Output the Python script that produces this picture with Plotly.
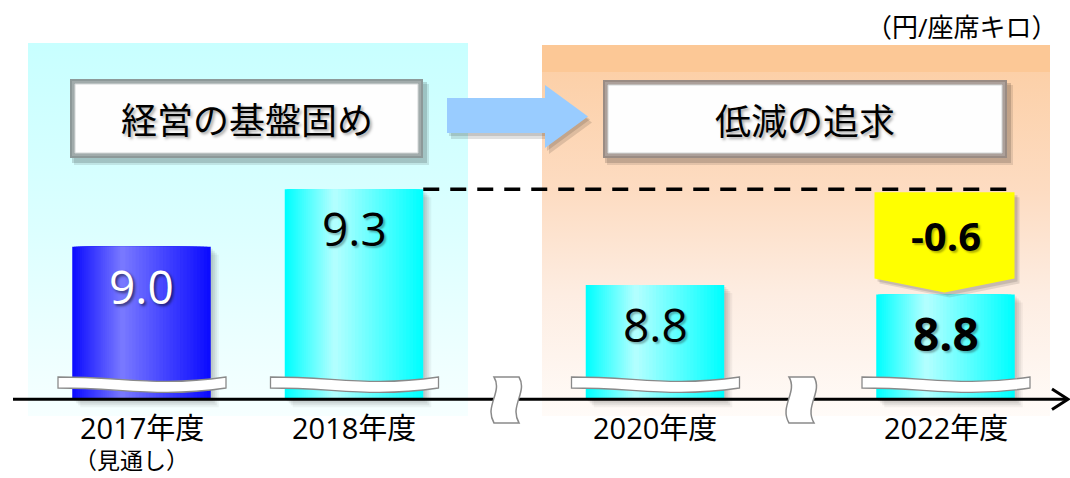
import plotly.graph_objects as go

# ---------------- data ----------------
categories = ["2017年度", "2018年度", "2020年度", "2022年度"]
category_notes = ["（見通し）", "", "", ""]
values = [9.0, 9.3, 8.8, 8.75]            # bar heights as drawn (円/座席キロ, broken axis)
value_labels = ["9.0", "9.3", "8.8", "8.8"]
bold_labels = [False, False, False, True]
change_label = "-0.6"
unit_label = "（円/座席キロ）"
phase_labels = ["経営の基盤固め", "低減の追求"]

# ---------------- layout constants ----------------
W, H = 1070, 478
AXIS_PY = 399.3          # pixel row of the category axis
PX = 191.3               # pixels per unit on the value axis
BASE = 8.202             # value at the (broken) axis line
BAR_CX = [141.5, 354, 655, 945.5]
BAR_W = 138.5
Y0 = BASE - (H - AXIS_PY) / PX
Y1 = BASE + AXIS_PY / PX
FONT = "Open Sans, Noto Sans CJK JP, sans-serif"
VY = "y2"   # value axis (bars)
PY = "y"    # pixel axis (decorations)


def mix(c1, c2, t):
    a = [int(c1[i:i + 2], 16) for i in (1, 3, 5)]
    b = [int(c2[i:i + 2], 16) for i in (1, 3, 5)]
    return "rgb(%d,%d,%d)" % tuple(round(a[k] + (b[k] - a[k]) * t) for k in range(3))


fig = go.Figure()


# ---------------- background panels (pixel axis, drawn first) ----------------
def panel(x0, x1, ytop, ybot, scale):
    fig.add_trace(go.Scatter(
        x=[x0, x1, x1, x0, x0], y=[ytop, ytop, ybot, ybot, ytop], yaxis="y",
        mode="none", fill="toself",
        fillgradient=dict(type="vertical", colorscale=scale, start=ytop, stop=ybot),
        hoverinfo="skip", showlegend=False))


panel(28, 468, 43, 416, [[0, "#c8ffff"], [0.5, "#dcffff"], [1, "#f6ffff"]])
panel(542, 1050, 45, 72, [[0, "#fcc896"], [1, "#fcc896"]])
panel(542, 1050, 72, 416, [[0, "#fcd0a8"], [0.35, "#fddcc2"], [0.65, "#fdede2"], [1, "#fffbf8"]])

# ---------------- bars (value axis, overlaid on top) ----------------
heights = [v - BASE for v in values]
edge = ["#0c0cff"] + ["#00ffff"] * 3
peak = ["#7c7cff"] + ["#b8ffff"] * 3

for dx, a in ((8, 0.05), (6, 0.07), (4, 0.08), (2, 0.08)):
    fig.add_trace(go.Bar(
        x=[c + dx for c in BAR_CX], y=heights, base=BASE - dx / PX, width=BAR_W, yaxis=VY,
        marker=dict(color="rgba(40,40,40,%s)" % a, line_width=0),
        hoverinfo="skip", showlegend=False))

N, P = 26, 0.36
for j in range(N):
    t = j / N
    left = -BAR_W / 2 + t * P * BAR_W
    right = BAR_W / 2 - t * (1 - P) * BAR_W
    fig.add_trace(go.Bar(
        x=BAR_CX, y=heights, base=BASE, width=right - left, offset=left, yaxis=VY,
        marker=dict(color=[mix(edge[i], peak[i], t) for i in range(len(values))], line_width=0),
        hoverinfo="skip", showlegend=False))

shapes = []


def rect(x0, y0, x1, y1, fill, line=None, lw=0):
    shapes.append(dict(type="rect", xref="x", yref=PY, x0=x0, x1=x1, y0=y0, y1=y1,
                       fillcolor=fill, line=dict(color=line or fill, width=lw), layer="above"))


def path(d, fill, line=None, lw=0, yref=PY):
    shapes.append(dict(type="path", xref="x", yref=yref, path=d, fillcolor=fill,
                       line=dict(color=line or "rgba(0,0,0,0)", width=lw), layer="above"))


# ---------------- phase header boxes ----------------
boxes = [((70, 79, 423, 158), "#8d9999"), ((603, 80, 1007, 158), "#9a8c84")]
for (x0, y0, x1, y1), frame in boxes:
    rect(x0 + 4, y0 + 5, x1 + 6, y1 + 7, "rgba(0,0,0,0.10)")
    rect(x0 + 2, y0 + 3, x1 + 4, y1 + 5, "rgba(0,0,0,0.15)")
    rect(x0, y0, x1, y1, frame)
    rect(x0 + 2, y0 + 2, x1 - 2, y1 - 2, "rgba(255,255,255,0.18)")
    rect(x0 + 5, y0 + 5, x1 - 5, y1 - 5, "#fefefe", "#d2d6d6", 1)


# ---------------- blue transition arrow ----------------
def arrow_d(ox, oy):
    pts = [(447, 98), (545, 98), (545, 85), (588, 116.5), (545, 148), (545, 133), (447, 133)]
    return "M " + " L ".join("%s,%s" % (x + ox, y + oy) for x, y in pts) + " Z"


path(arrow_d(4, 6), "rgba(0,0,0,0.12)")
path(arrow_d(2, 3), "rgba(0,0,0,0.12)")
path(arrow_d(0, 0), "#99ccff")

# ---------------- dashed reference line at 2018 level ----------------
shapes.append(dict(type="line", xref="x", yref=VY,
                   x0=BAR_CX[1] + BAR_W / 2, x1=BAR_CX[3] + BAR_W / 2,
                   y0=values[1], y1=values[1],
                   line=dict(color="black", width=3.5, dash="16px,11px"), layer="above"))

# ---------------- yellow decrease arrow ----------------
ya_top = values[1] - 3 / PX
ya_tip = values[3] + 2 / PX
ya_sh = ya_tip + 14 / PX
cx = BAR_CX[3] - 1
hw = 70


def yarrow(ox, oy):
    oy = oy / PX
    return ("M %s,%s L %s,%s L %s,%s L %s,%s L %s,%s Z" % (
        cx - hw + ox, ya_top - oy, cx + hw + ox, ya_top - oy, cx + hw + ox, ya_sh - oy,
        cx + ox, ya_tip - oy, cx - hw + ox, ya_sh - oy))


path(yarrow(5, 5), "rgba(0,0,0,0.10)", yref=VY)
path(yarrow(3, 3), "rgba(0,0,0,0.12)", yref=VY)
path(yarrow(0, 0), "#ffff00", yref=VY)

# ---------------- wavy break bands on bars ----------------
for c in BAR_CX:
    L, R = c - 83.5, c + 84.5
    w = R - L
    d = ("M %.1f,377 C %.1f,377 %.1f,387 %.1f,377 L %.1f,388 C %.1f,398 %.1f,388 %.1f,388 Z" % (
        L, L + 0.4 * w, L + 0.58 * w, R, R, L + 0.58 * w, L + 0.4 * w, L))
    path(d, "#ffffff", "#8a8a8a", 1.3)

# ---------------- category axis with arrow ----------------
shapes.append(dict(type="line", xref="x", yref=PY, x0=13, x1=1066, y0=AXIS_PY, y1=AXIS_PY,
                   line=dict(color="black", width=3), layer="above"))
path("M 1052,389 L 1068,%s L 1052,409.6" % AXIS_PY, "rgba(0,0,0,0)", "black", 3)

# axis break symbols
for bx in (506, 801):
    d = ("M %s,377 L %s,377 C %s,392 %s,406 %s,423 L %s,423 C %s,406 %s,392 %s,377 Z" % (
        bx - 12, bx + 13, bx + 22, bx + 3, bx + 13, bx - 12, bx - 22, bx - 3, bx - 12))
    path(d, "#ffffff", "#8a8a8a", 1.5)

# ---------------- annotations ----------------
ann = []
for i, (c, v, lab) in enumerate(zip(BAR_CX, values, value_labels)):
    white = i == 0
    ann.append(dict(
        x=c, y=v, xref="x", yref=VY, yshift=-39, text=lab, showarrow=False,
        xanchor="center", yanchor="middle",
        font=dict(family=FONT, size=46, color="white" if white else "black",
                  weight="bold" if bold_labels[i] else "normal",
                  shadow="2px 2px 3px rgba(0,0,0,0.55)" if white else "2px 2px 2px rgba(0,0,0,0.3)")))

ann.append(dict(x=cx + 1, y=(ya_top + ya_sh) / 2, xref="x", yref=VY, text=change_label,
                showarrow=False, xanchor="center", yanchor="middle",
                font=dict(family=FONT, size=40, color="black", weight="bold",
                          shadow="2px 2px 2px rgba(0,0,0,0.3)")))

for c, cat, note in zip(BAR_CX, categories, category_notes):
    ann.append(dict(x=c, y=AXIS_PY + 28, xref="x", yref=PY, text=cat, showarrow=False,
                    xanchor="center", yanchor="middle",
                    font=dict(family=FONT, size=29, color="black")))
    if note:
        ann.append(dict(x=c - 10, y=AXIS_PY + 61, xref="x", yref=PY, text=note,
                        showarrow=False, xanchor="center", yanchor="middle",
                        font=dict(family=FONT, size=23, color="black")))

ann.append(dict(x=1060, y=27, xref="x", yref=PY, text=unit_label, showarrow=False,
                xanchor="right", yanchor="middle",
                font=dict(family=FONT, size=26, color="black")))

for ((x0, y0, x1, y1), _), lab in zip(boxes, phase_labels):
    ann.append(dict(x=(x0 + x1) / 2, y=(y0 + y1) / 2 + 2, xref="x", yref=PY, text=lab,
                    showarrow=False, xanchor="center", yanchor="middle",
                    font=dict(family=FONT, size=36, color="black",
                              shadow="2px 2px 3px rgba(0,0,0,0.35)")))

fig.update_layout(
    width=W, height=H, margin=dict(l=0, r=0, t=0, b=0, pad=0),
    paper_bgcolor="white", plot_bgcolor="white",
    barmode="overlay", showlegend=False, hovermode=False,
    xaxis=dict(range=[0, W], visible=False, fixedrange=True),
    yaxis=dict(range=[H, 0], visible=False, fixedrange=True),
    yaxis2=dict(range=[Y0, Y1], overlaying="y", visible=False, fixedrange=True),
    shapes=shapes, annotations=ann,
)

fig.write_html("out.html", config={"displayModeBar": False},
               post_script="document.body.style.margin='0';document.body.style.overflow='hidden';")
